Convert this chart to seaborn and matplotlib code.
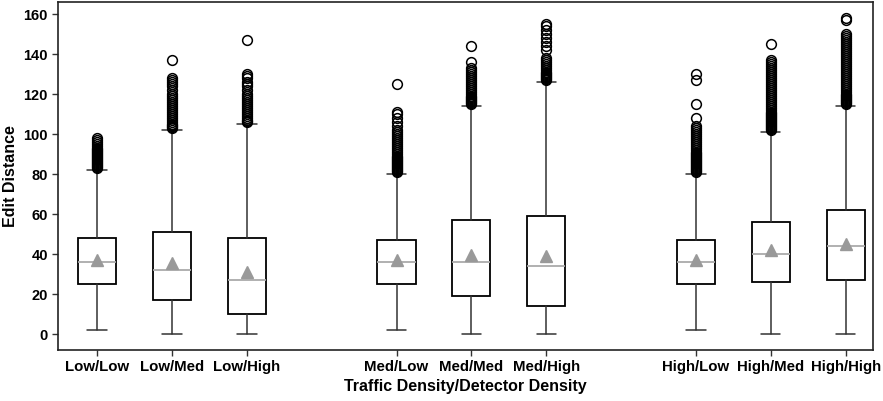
import matplotlib
matplotlib.use("Agg")
import matplotlib.pyplot as plt
import seaborn as sns

# categories (traffic density / detector density)
labels = ["Low/Low", "Low/Med", "Low/High",
          "Med/Low", "Med/Med", "Med/High",
          "High/Low", "High/Med", "High/High"]
positions = [0, 1, 2, 4, 5, 6, 8, 9, 10]

# summary statistics
whis_lo = [2, 0, 0, 2, 0, 0, 2, 0, 0]
q1 = [25, 17, 10, 25, 19, 14, 25, 26, 27]
median = [36, 32, 27, 36, 36, 34, 36, 40, 44]
mean = [37, 35.5, 31, 37, 39.5, 39, 37, 42, 45]
q3 = [48, 51, 48, 47, 57, 59, 47, 56, 62]
whis_hi = [82, 102, 105, 80, 114, 126, 80, 101, 114]

# outliers (dense bands listed roughly, plus the isolated ones)
fliers = [
    [83, 83.5, 84, 84.5, 85, 85.5, 86, 86.5, 87, 87.5, 88, 88.5, 89, 89.5, 90, 90.5,
     91, 91.5, 92, 92.5, 93, 94, 95, 96, 97, 98],
    [103, 103.5, 104, 104.5, 105, 106, 107, 108, 109, 110, 111, 112, 113, 114, 115,
     116, 117, 118, 119, 120, 122, 124, 125, 126, 127, 128, 137],
    [106, 106.5, 107, 108, 109, 110, 111, 112, 113, 114, 115, 116, 117, 118, 119,
     120, 122, 124, 125, 126, 128, 129, 130, 147],
    [81, 81.5, 82, 82.5, 83, 83.5, 84, 84.5, 85, 85.5, 86, 86.5, 87, 87.5, 88, 88.5,
     89, 90, 91, 92, 93, 94, 95, 96, 97, 98, 99, 100, 101, 102, 104, 106, 108, 110,
     111, 125],
    [115, 115.5, 116, 116.5, 117, 117.5, 118, 118.5, 119, 120, 121, 122, 123, 124,
     125, 126, 127, 128, 129, 130, 131, 132, 133, 136, 144],
    [127, 127.5, 128, 128.5, 129, 129.5, 130, 130.5, 131, 132, 133, 134, 135, 136,
     137, 138, 142, 144, 146, 148, 150, 152, 154, 155],
    [81, 81.5, 82, 82.5, 83, 83.5, 84, 84.5, 85, 85.5, 86, 86.5, 87, 87.5, 88, 88.5,
     89, 89.5, 90, 90.5, 91, 92, 93, 94, 95, 96, 97, 98, 99, 100, 101, 102, 103,
     104, 108, 115, 127, 130],
    [102, 102.5, 103, 103.5, 104, 104.5, 105, 105.5, 106, 106.5, 107, 107.5, 108,
     108.5, 109, 109.5, 110, 110.5, 111, 112, 113, 114, 115, 116, 117, 118, 119, 120,
     121, 122, 123, 124, 125, 126, 127, 128, 129, 130, 131, 132, 133, 134, 135, 136,
     137, 145],
    [115, 115.5, 116, 116.5, 117, 117.5, 118, 118.5, 119, 119.5, 120, 121, 122, 123,
     124, 125, 126, 127, 128, 129, 130, 131, 132, 133, 134, 135, 136, 137, 138, 139,
     140, 141, 142, 143, 144, 145, 146, 147, 148, 149, 150, 157, 158],
]

sns.set_theme(style="ticks")
plt.rcParams["font.family"] = ["Liberation Sans", "DejaVu Sans"]
plt.rcParams["font.weight"] = "bold"
plt.rcParams["text.color"] = "black"
plt.rcParams["axes.labelcolor"] = "black"
plt.rcParams["xtick.color"] = "black"
plt.rcParams["ytick.color"] = "black"

stats = []
for i in range(len(labels)):
    stats.append({
        "label": labels[i], "whislo": whis_lo[i], "q1": q1[i], "med": median[i],
        "mean": mean[i], "q3": q3[i], "whishi": whis_hi[i], "fliers": fliers[i],
    })

fig = plt.figure(figsize=(8.83, 4.01), dpi=100)
ax = fig.add_axes([0.066, 0.127, 0.923, 0.868])

ax.bxp(stats, positions=positions, widths=0.51, showmeans=True, patch_artist=True,
       boxprops=dict(facecolor="white", edgecolor="black", linewidth=1.3),
       whiskerprops=dict(color="#333333", linewidth=1.1),
       capprops=dict(color="#333333", linewidth=1.1),
       capwidths=0.26,
       medianprops=dict(color="#aaaaaa", linewidth=1.3),
       meanprops=dict(marker="^", markerfacecolor="#999999", markeredgecolor="#999999",
                      markersize=8),
       flierprops=dict(marker="o", markerfacecolor="none", markeredgecolor="black",
                       markersize=7, markeredgewidth=1.1))

ax.set_xlim(-0.52, 10.37)
ax.set_ylim(-8, 166)
ax.set_yticks(range(0, 161, 20))
ax.set_xticks(positions)
ax.set_xticklabels(labels, fontsize=10.8, fontweight="bold")
ax.tick_params(axis="y", labelsize=10.5, length=4, width=1, color="#333333")
ax.tick_params(axis="x", length=4, width=1, color="#333333")
for lab in ax.get_yticklabels():
    lab.set_fontweight("bold")
for sp in ax.spines.values():
    sp.set_color("#222222")
    sp.set_linewidth(1.2)

ax.set_ylabel("Edit Distance", fontsize=11.5, fontweight="bold")
ax.set_xlabel("Traffic Density/Detector Density", fontsize=11.5, fontweight="bold",
              labelpad=3)

fig.savefig("out.png", dpi=100)
